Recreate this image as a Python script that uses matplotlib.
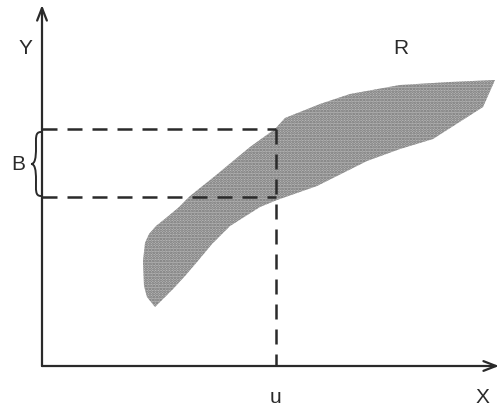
import matplotlib
matplotlib.use('Agg')
import matplotlib.pyplot as plt
from matplotlib.path import Path
from matplotlib.patches import PathPatch, Polygon
import numpy as np

# picture is drawn in pixel-like units: x to the right, y downward
W, H = 501, 410

# shaded band R (upper edge left->right, lower edge right->left)
upper_x = [155, 147, 144, 143, 145, 149, 156, 166, 178, 190, 215, 250, 275, 285, 320, 350, 400, 450, 495]
upper_y = [308, 298, 287, 262, 244, 235, 227, 219, 209, 197, 177, 148, 130, 119, 105, 95, 86, 83, 81]
lower_x = [495, 483, 433, 400, 367, 317, 277, 260, 230, 212, 197, 185, 173, 163, 155]
lower_y = [81, 108, 140, 150, 162, 187, 201, 208, 227, 245, 263, 277, 290, 300, 308]

# axes
origin = (42, 367)
y_tip = 6
x_tip = 499

# the point u and its band B on the y axis
u_x = 276
b_top = 130
b_bottom = 198

labels = ['Y', 'X', 'R', 'B', 'u']
label_x = [25, 482, 401, 18, 276]
label_y = [48, 398, 48, 165, 398]

plt.rcParams['font.family'] = ['Liberation Sans', 'DejaVu Sans']
plt.rcParams['hatch.linewidth'] = 1.3

fig = plt.figure(figsize=(W / 100, H / 100), dpi=100)
ax = fig.add_axes([0, 0, 1, 1])
ax.set_xlim(0, W)
ax.set_ylim(H, 0)
ax.axis('off')

ink = '#2a2a2a'

# band: light grey fill plus a dotted screen on top
pts = list(zip(upper_x, upper_y)) + list(zip(lower_x, lower_y))
ax.add_patch(Polygon(pts, closed=True, facecolor='#b8b8b8', edgecolor='none', zorder=1))
ax.add_patch(Polygon(pts, closed=True, facecolor='none', edgecolor='#727272',
                     linewidth=0, hatch='......', zorder=1))

# axes with arrows
arrow = dict(arrowstyle='->,head_length=0.9,head_width=0.35', color=ink, lw=1.6,
             shrinkA=0, shrinkB=0)
ax.annotate('', xy=(origin[0], y_tip), xytext=origin, arrowprops=arrow)
ax.annotate('', xy=(x_tip, origin[1]), xytext=origin, arrowprops=arrow)

# dashed guides
dash = dict(color=ink, lw=1.8, linestyle=(0, (6, 4)), zorder=3)
ax.plot([origin[0], u_x], [b_top, b_top], **dash)
ax.plot([origin[0], u_x], [b_bottom, b_bottom], **dash)
ax.plot([u_x, u_x], [b_top, origin[1]], **dash)

# brace for B
def brace(ax, x, y0, y1, depth):
    ym = (y0 + y1) / 2
    tip = (x - depth, ym)
    verts = [(x, y0), (x - depth * 0.6, y0), (x - depth * 0.5, y0 + 6), (x - depth * 0.5, (y0 + ym) / 2),
             (x - depth * 0.5, ym - 6), (x - depth * 0.6, ym), tip,
             tip, (x - depth * 0.6, ym), (x - depth * 0.5, ym + 6), (x - depth * 0.5, (ym + y1) / 2),
             (x - depth * 0.5, y1 - 6), (x - depth * 0.6, y1), (x, y1)]
    codes = [Path.MOVETO] + [Path.CURVE4] * 6 + [Path.MOVETO] + [Path.CURVE4] * 6
    ax.add_patch(PathPatch(Path(verts, codes), facecolor='none', edgecolor=ink, lw=1.4))

brace(ax, origin[0] - 1, b_top + 3, b_bottom - 1, 10)

for t, x, y in zip(labels, label_x, label_y):
    ax.text(x, y, t, ha='center', va='center', fontsize=15, color=ink)

fig.savefig('out.png', dpi=100)
